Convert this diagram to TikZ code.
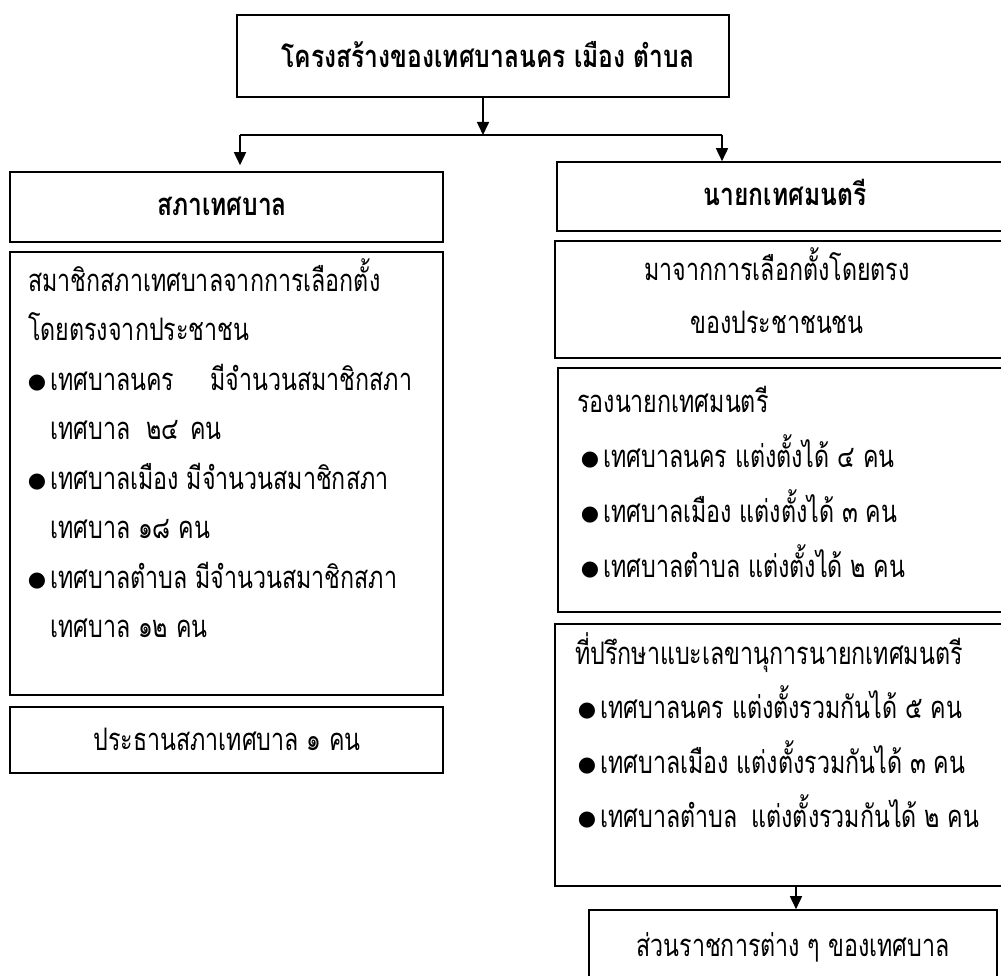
\documentclass[tikz,border=0pt]{standalone}
\usepackage{fontspec}
\newfontfamily\thai[Script=Thai,FakeStretch=0.75]{Loma}
\newfontfamily\thaib[Script=Thai,FakeStretch=0.795]{Loma}
\newfontfamily\dv{DejaVu Sans}
\usetikzlibrary{arrows.meta,calc}
\newcommand{\bul}{\llap{\raisebox{2pt}{\dv\fontsize{21}{22}\selectfont ●}\hspace{4pt}}}
\begin{document}
\begin{tikzpicture}[x=1pt,y=-1pt,
  box/.style={draw, line width=1.6pt, inner sep=0pt},
  txt/.style={inner sep=0pt, anchor=base west, font=\thai\fontsize{31}{34}\selectfont},
  ctxt/.style={inner sep=0pt, anchor=base, font=\thai\fontsize{31}{34}\selectfont},
  btxt/.style={inner sep=0pt, anchor=base, font=\thaib\bfseries\fontsize{31}{34}\selectfont},
  arr/.style={line width=1.6pt, -{Triangle[width=12pt,length=13pt]}},
  lin/.style={line width=1.6pt}
]
\clip (0,0) rectangle (1001,976);
\fill[white] (0,0) rectangle (1001,976);

% top
\node[box, minimum width=492pt, minimum height=82pt] (top) at (483,56) {};
\node[btxt] (toptxt) at (488,68) {โครงสร้างของเทศบาลนคร เมือง ตำบล};

% left column
\node[box, minimum width=433pt, minimum height=70pt] (lt) at (226.5,207) {};
\node[btxt] (lttxt) at (222,216) {สภาเทศบาล};
\node[box, minimum width=433pt, minimum height=443pt] (lc) at (226.5,473.5) {};
\node[txt] (l1) at (28,291) {สมาชิกสภาเทศบาลจากการเลือกตั้ง};
\node[txt] (l2) at (28,340.5) {โดยตรงจากประชาชน};
\node[txt] (l3) at (50,390) {\bul เทศบาลนคร\hspace{36pt}มีจำนวนสมาชิกสภา};
\node[txt] (l4) at (50,439.5) {เทศบาล\hspace{16pt}๒๔\hspace{11pt}คน};
\node[txt] (l5) at (50,489) {\bul เทศบาลเมือง มีจำนวนสมาชิกสภา};
\node[txt] (l6) at (50,538.5) {เทศบาล ๑๘ คน};
\node[txt] (l7) at (50,588) {\bul เทศบาลตำบล มีจำนวนสมาชิกสภา};
\node[txt] (l8) at (50,637.5) {เทศบาล ๑๒ คน};
\node[box, minimum width=433pt, minimum height=66pt] (lp) at (226.5,740) {};
\node[ctxt] (lptxt) at (227,750) {ประธานสภาเทศบาล ๑ คน};

% right column
\node[box, minimum width=456pt, minimum height=69pt] (rt) at (785,196.5) {};
\node[btxt] (rttxt) at (785,206) {นายกเทศมนตรี};
\node[box, minimum width=458pt, minimum height=117pt] (rb2) at (784,299.5) {};
\node[ctxt] (r21) at (777,280) {มาจากการเลือกตั้งโดยตรง};
\node[ctxt] (r22) at (777,333) {ของประชาชนชน};
\node[box, minimum width=455pt, minimum height=244pt] (rb3) at (785.5,490) {};
\node[txt] (r31) at (577,412) {รองนายกเทศมนตรี};
\node[txt] (r32) at (603,467) {\bul เทศบาลนคร แต่งตั้งได้ ๔ คน};
\node[txt] (r33) at (603,522) {\bul เทศบาลเมือง แต่งตั้งได้ ๓ คน};
\node[txt] (r34) at (603,577) {\bul เทศบาลตำบล แต่งตั้งได้ ๒ คน};
\node[box, minimum width=458pt, minimum height=262pt] (rb4) at (784,755) {};
\node[txt] (r41) at (575,664) {ที่ปรึกษาแบะเลขานุการนายกเทศมนตรี};
\node[txt] (r42) at (600,718) {\bul เทศบาลนคร แต่งตั้งรวมกันได้ ๕ คน};
\node[txt] (r43) at (600,773) {\bul เทศบาลเมือง แต่งตั้งรวมกันได้ ๓ คน};
\node[txt] (r44) at (600,827) {\bul เทศบาลตำบล\hspace{14pt}แต่งตั้งรวมกันได้ ๒ คน};
\node[box, minimum width=408pt, minimum height=90pt] (bb) at (793,955) {};
\node[ctxt] (bbtxt) at (793,956) {ส่วนราชการต่าง ๆ ของเทศบาล};

% connectors
\coordinate (j) at (top.south |- 0,135);
\coordinate (jl) at (240,135);
\coordinate (jr) at (722,135);
\draw[arr] (top.south) -- (j);
\draw[lin] (jl) -- (jr);
\draw[arr, shorten >=6pt] (jl) -- (jl |- lt.north);
\draw[arr] (jr) -- (jr |- rt.north);
\coordinate (k) at ($(rb4.south)+(12,0)$);
\draw[arr] (k) -- (k |- bb.north);
\end{tikzpicture}
\end{document}
